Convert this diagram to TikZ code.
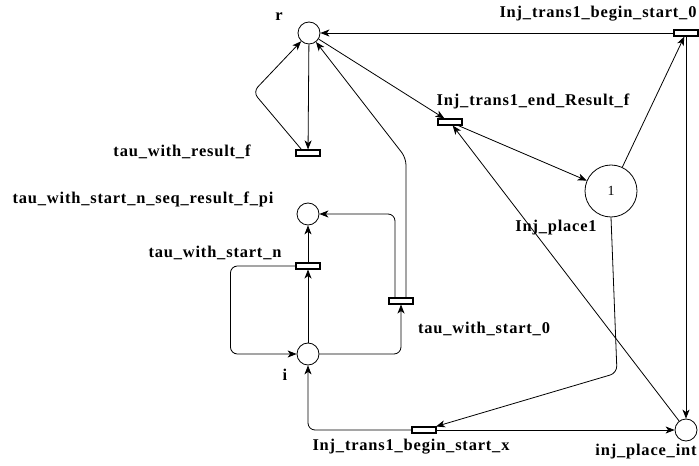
\documentclass[tikz,border=0pt]{standalone}
\usepackage{fontspec}
\setmainfont{Liberation Serif}
\usetikzlibrary{arrows.meta,calc}
\tikzset{
  place/.style={circle,draw,line width=0.8bp,minimum size=22bp,inner sep=0pt},
  bigplace/.style={circle,draw,line width=0.8bp,minimum size=52bp,inner sep=0pt,font=\fontsize{14}{16}\selectfont},
  trans/.style={rectangle,draw,line width=1.1bp,minimum width=24bp,minimum height=6bp,inner sep=0pt,fill=white},
  lbl/.style={font=\fontsize{16.5}{18}\selectfont\bfseries\addfontfeatures{LetterSpace=5},inner sep=0pt},
  arc/.style={line width=0.8bp,-{Stealth[length=9bp,width=7bp,inset=2.5bp]},rounded corners=7bp},
}
\begin{document}
\begin{tikzpicture}[x=1bp,y=-1bp]
\useasboundingbox (0,0) rectangle (699,466);
% places
\node[place] (r) at (309,33) {};
\node[place] (pi) at (308,214) {};
\node[place] (i) at (308,354) {};
\node[bigplace] (p1) at (611,191) {1};
\node[place] (ipi) at (686,430) {};
% transitions
\node[trans] (trf) at (308,153) {};
\node[trans] (tsn) at (308,266) {};
\node[trans] (ts0) at (401,301) {};
\node[trans] (tbe) at (450,122) {};
\node[trans] (tb0) at (686,33) {};
\node[trans] (tbx) at (424,430) {};
% labels
\node[lbl] (lr) at (279,17) {r};
\node[lbl] (ltb0) at (598,14) {Inj\_trans1\_begin\_start\_0};
\node[lbl] (ltbe) at (533,101) {Inj\_trans1\_end\_Result\_f};
\node[lbl] (ltrf) at (182,152) {tau\_with\_result\_f};
\node[lbl] (lpi) at (143,199) {tau\_with\_start\_n\_seq\_result\_f\_pi};
\node[lbl] (ltsn) at (215,253) {tau\_with\_start\_n};
\node[lbl] (lts0) at (484,329) {tau\_with\_start\_0};
\node[lbl] (li) at (285,375) {i};
\node[lbl] (lp1) at (556,228) {Inj\_place1};
\node[lbl] (lipi) at (646,452) {inj\_place\_int};
\node[lbl] (ltbx) at (411,447) {Inj\_trans1\_begin\_start\_x};
% arcs
\draw[arc] ([xshift=6bp]trf.north west) -- (253,92) -- (r);
\draw[arc] (r) -- (trf);
\draw[arc] ([xshift=5bp]ts0.north) -- (406,158) -- (r);
\draw[arc] ([xshift=-6bp]ts0.north) |- (pi);
\draw[arc] (i) -- (tsn);
\draw[arc] (tsn) -- (pi);
\draw[arc] (tsn.west) -- ++(-65,0) |- (i);
\draw[arc] (i) -| (ts0);
\draw[arc] (r) -- (tbe);
\draw[arc] (tbe) -- (p1);
\draw[arc] (ipi) -- (tbe);
\draw[arc] (p1) -- (tb0);
\draw[arc] (tb0) -- (r);
\draw[arc] (tb0) -- (ipi);
\draw[arc] (p1.south) -- (617,373) -- (tbx);
\draw[arc] (tbx) -- (ipi);
\draw[arc] (tbx.west) -| (i);
\end{tikzpicture}
\end{document}
